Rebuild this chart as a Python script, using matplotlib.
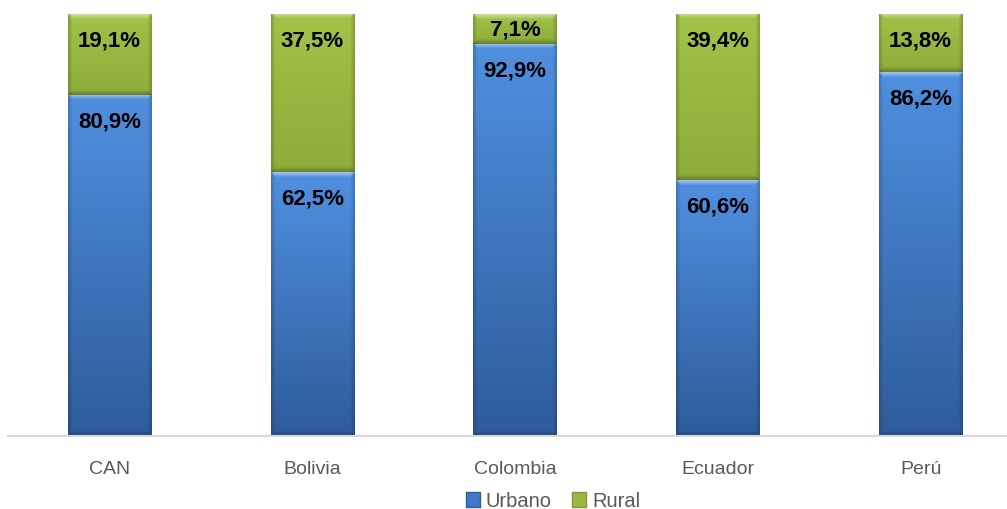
import numpy as np
import matplotlib.pyplot as plt
from matplotlib.patches import Patch

categories = ['CAN', 'Bolivia', 'Colombia', 'Ecuador', 'Perú']
urbano = [80.9, 62.5, 92.9, 60.6, 86.2]
rural = [19.1, 37.5, 7.1, 39.4, 13.8]

W, H = 1007, 510
PX_PER_UNIT = (437 - 15) / 100.0
BAR_W = 0.41

blue = {'top': np.array([0x50, 0x90, 0xE0]) / 255, 'bot': np.array([0x2E, 0x5C, 0x9A]) / 255}
green = {'top': np.array([0xA2, 0xC2, 0x48]) / 255, 'bot': np.array([0x8E, 0xAC, 0x3A]) / 255}


def bevel_segment(ax, x0, x1, y0, y1, cols):
    h = max(int(round((y1 - y0) * PX_PER_UNIT)), 2)
    w = 83
    t = np.linspace(0, 1, h)[:, None, None]
    arr = cols['top'] * (1 - t) + cols['bot'] * t
    arr = np.repeat(arr, w, axis=1)
    b = 5
    for r in range(min(b, h)):
        k = 0.45 * (1 - r / b)
        lo, hi = r, w - r
        arr[r, lo:hi] = arr[r, lo:hi] * (1 - k) + k
    for r in range(min(b, h)):
        k = 0.25 * (1 - r / b)
        row = h - 1 - r
        arr[row, r:w - r] = arr[row, r:w - r] * (1 - k)
    for c in range(4):
        k = 0.18 * (1 - c / 4)
        arr[:, c] *= (1 - k)
        arr[:, w - 1 - c] *= (1 - k)
    ax.imshow(np.clip(arr, 0, 1), extent=(x0, x1, y0, y1), origin='upper',
              aspect='auto', interpolation='bilinear', zorder=2)


fig = plt.figure(figsize=(W / 100, H / 100), dpi=100)
ax = fig.add_axes([8 / W, (H - 437) / H, (1022 - 8) / W, (437 - 15) / H])

x = np.arange(len(categories))
label_off = 26 / PX_PER_UNIT
for i in range(len(categories)):
    x0, x1 = x[i] - BAR_W / 2, x[i] + BAR_W / 2
    bevel_segment(ax, x0, x1, 0, urbano[i], blue)
    bevel_segment(ax, x0, x1, urbano[i], urbano[i] + rural[i], green)
    yu = urbano[i] - min(label_off, urbano[i] / 2)
    ax.text(x[i], yu, f'{urbano[i]:.1f}%'.replace('.', ','), ha='center', va='center',
            fontsize=16, fontweight='bold', family='Liberation Sans', color='black', zorder=3)
    top = urbano[i] + rural[i]
    yr = top - min(label_off, rural[i] / 2)
    ax.text(x[i], yr, f'{rural[i]:.1f}%'.replace('.', ','), ha='center', va='center',
            fontsize=16, fontweight='bold', family='Liberation Sans', color='black', zorder=3)

ax.set_xlim(-0.5, len(categories) - 0.5)
ax.set_ylim(0, 100)
ax.set_xticks(x)
ax.set_xticklabels(categories, fontsize=14, family='Liberation Sans', color='#595959')
ax.tick_params(axis='x', length=0, pad=17)
ax.set_yticks([])
for s in ['top', 'right', 'left']:
    ax.spines[s].set_visible(False)
ax.spines['bottom'].set_color('#D9D9D9')
ax.spines['bottom'].set_linewidth(1.5)

handles = [Patch(facecolor='#3E78C6', edgecolor='#2E5C9A', label='Urbano'),
           Patch(facecolor='#98B843', edgecolor='#7E9A34', label='Rural')]
fig.legend(handles=handles, loc='center', bbox_to_anchor=(553 / W, 1 - 502 / H), ncol=2,
           frameon=False, handlelength=0.7, handleheight=0.7, handletextpad=0.3,
           columnspacing=1.0, prop={'family': 'Liberation Sans', 'size': 14.5},
           labelcolor='#595959')

fig.savefig('out.png', dpi=100)
